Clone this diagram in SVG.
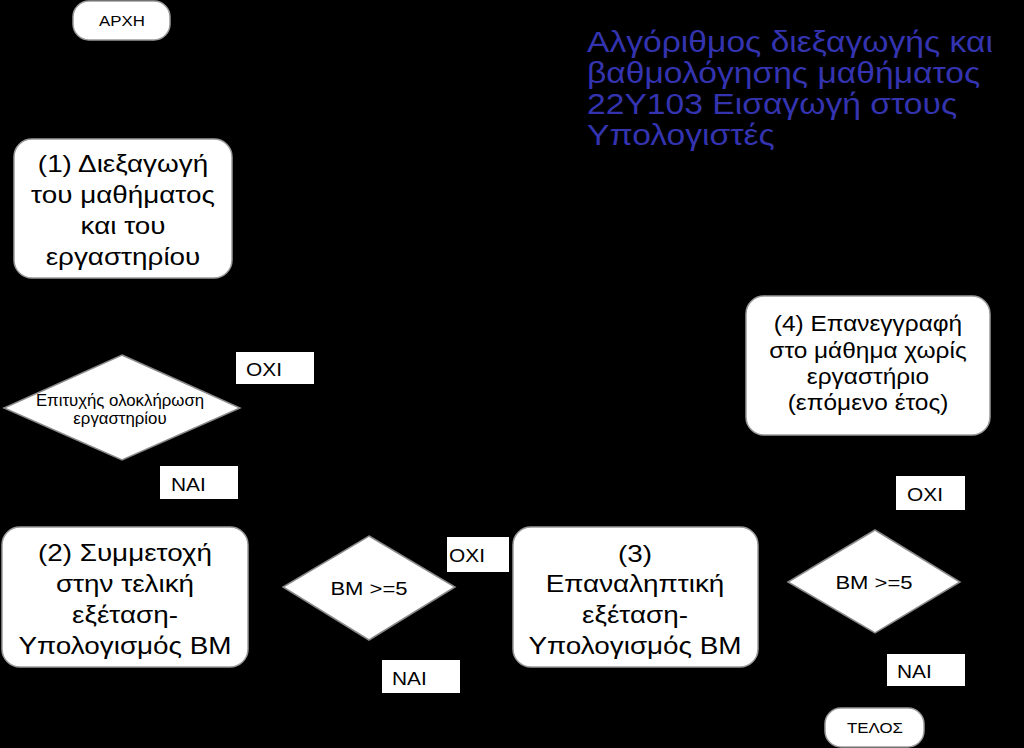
<svg xmlns="http://www.w3.org/2000/svg" width="1024" height="748" viewBox="0 0 1024 748">
<defs>
<marker id="arr" viewBox="0 0 10 10" refX="9" refY="5" markerWidth="8" markerHeight="8" orient="auto"><path d="M0,0 L10,5 L0,10 z" fill="#000"/></marker>
<style>
.bg{fill:#000}
.box{fill:#fff;stroke:#9a9a9a;stroke-width:1.5}
.dia{fill:#fff;stroke:#8a8a8a;stroke-width:1.5}
.lab{fill:#fff;stroke:none}
.t{font-family:"Liberation Sans",Arial,sans-serif;fill:#000;text-anchor:middle}
.tl{font-family:"Liberation Sans",Arial,sans-serif;fill:#000}
.big{font-size:24px}
.mid{font-size:22px}
.sm{font-size:14.5px}
.ds{font-size:16px}
.lb{font-size:18px}
.dl{font-size:19px}
.title{font-family:"Liberation Sans",Arial,sans-serif;font-size:29px;fill:#3434b0}
.con{fill:none;stroke:#000;stroke-width:1.5;marker-end:url(#arr)}
</style>
</defs>
<rect class="bg" x="0" y="0" width="1024" height="748"/>
<g id="connectors">
<path class="con" d="M122,40 L122,139"/>
<path class="con" d="M122,278 L122,355"/>
<path class="con" d="M240,408 L746,408"/>
<path class="con" d="M122,460 L122,527"/>
<path class="con" d="M248,587 L283,587"/>
<path class="con" d="M455,587 L513,587"/>
<path class="con" d="M369,640 L369,727 L825,727"/>
<path class="con" d="M758,582 L788,582"/>
<path class="con" d="M875,530 L875,435"/>
<path class="con" d="M875,633 L875,708"/>
</g>
<g id="title" transform="translate(587 0) scale(1.16 1) translate(-587 0)">
<text class="title" x="587" y="52">Αλγόριθμος διεξαγωγής και</text>
<text class="title" x="587" y="83">βαθμολόγησης μαθήματος</text>
<text class="title" x="587" y="114">22Υ103 Εισαγωγή στους</text>
<text class="title" x="587" y="145">Υπολογιστές</text>
</g>
<g id="start">
<rect class="box" x="73" y="1" width="97" height="39" rx="16"/>
<g transform="translate(122 0) scale(1.16 1) translate(-122 0)"><text class="t sm" x="122" y="26">ΑΡΧΗ</text></g>
</g>
<g id="step1">
<rect class="box" x="14" y="139" width="218" height="139" rx="18"/>
<g transform="translate(123 0) scale(1.16 1) translate(-123 0)">
<text class="t big" x="123" y="172">(1) Διεξαγωγή</text>
<text class="t big" x="123" y="203">του μαθήματος</text>
<text class="t big" x="123" y="234">και του</text>
<text class="t big" x="123" y="265">εργαστηρίου</text>
</g>
</g>
<g id="decision1">
<polygon class="dia" points="122,355 240,408 122,460 4,408"/>
<g transform="translate(120 0) scale(1.05 1) translate(-120 0)">
<text class="t ds" x="120" y="406">Επιτυχής ολοκλήρωση</text>
<text class="t ds" x="120" y="424">εργαστηρίου</text>
</g>
</g>
<g id="label-oxi1">
<rect class="lab" x="236" y="352" width="78" height="32"/>
<text class="tl lb" x="246" y="376" transform="translate(246 0) scale(1.16 1) translate(-246 0)">ΟΧΙ</text>
</g>
<g id="label-nai1">
<rect class="lab" x="160" y="466" width="78" height="33"/>
<text class="tl lb" x="171" y="491" transform="translate(171 0) scale(1.16 1) translate(-171 0)">ΝΑΙ</text>
</g>
<g id="step2">
<rect class="box" x="2" y="527" width="246" height="140" rx="18"/>
<g transform="translate(125 0) scale(1.16 1) translate(-125 0)">
<text class="t big" x="125" y="561">(2) Συμμετοχή</text>
<text class="t big" x="125" y="592">στην τελική</text>
<text class="t big" x="125" y="623">εξέταση-</text>
<text class="t big" x="125" y="654">Υπολογισμός ΒΜ</text>
</g>
</g>
<g id="decision2">
<polygon class="dia" points="369,536 455,587 369,640 283,587"/>
<text class="t dl" x="369" y="595" transform="translate(369 0) scale(1.16 1) translate(-369 0)">ΒΜ &gt;=5</text>
</g>
<g id="label-oxi2">
<rect class="lab" x="447" y="537" width="62" height="35"/>
<text class="tl lb" x="449" y="562" transform="translate(449 0) scale(1.16 1) translate(-449 0)">ΟΧΙ</text>
</g>
<g id="label-nai2">
<rect class="lab" x="382" y="660" width="78" height="33"/>
<text class="tl lb" x="392" y="685" transform="translate(392 0) scale(1.16 1) translate(-392 0)">ΝΑΙ</text>
</g>
<g id="step3">
<rect class="box" x="513" y="527" width="245" height="140" rx="18"/>
<g transform="translate(635 0) scale(1.16 1) translate(-635 0)">
<text class="t big" x="635" y="562">(3)</text>
<text class="t big" x="635" y="592">Επαναληπτική</text>
<text class="t big" x="635" y="623">εξέταση-</text>
<text class="t big" x="635" y="654">Υπολογισμός ΒΜ</text>
</g>
</g>
<g id="step4">
<rect class="box" x="746" y="296" width="244" height="139" rx="18"/>
<g transform="translate(868 0) scale(1.11 1) translate(-868 0)">
<text class="t mid" x="868" y="331">(4) Επανεγγραφή</text>
<text class="t mid" x="868" y="358">στο μάθημα χωρίς</text>
<text class="t mid" x="868" y="384">εργαστήριο</text>
<text class="t mid" x="868" y="410">(επόμενο έτος)</text>
</g>
</g>
<g id="label-oxi3">
<rect class="lab" x="896" y="476" width="69" height="34"/>
<text class="tl lb" x="907" y="501" transform="translate(907 0) scale(1.16 1) translate(-907 0)">ΟΧΙ</text>
</g>
<g id="decision3">
<polygon class="dia" points="875,530 960,582 875,633 788,582"/>
<text class="t dl" x="874" y="589" transform="translate(874 0) scale(1.16 1) translate(-874 0)">ΒΜ &gt;=5</text>
</g>
<g id="label-nai3">
<rect class="lab" x="887" y="654" width="78" height="32"/>
<text class="tl lb" x="897" y="678" transform="translate(897 0) scale(1.16 1) translate(-897 0)">ΝΑΙ</text>
</g>
<g id="end">
<rect class="box" x="825" y="708" width="99" height="39" rx="16"/>
<text class="t sm" x="875" y="733" transform="translate(875 0) scale(1.16 1) translate(-875 0)">ΤΕΛΟΣ</text>
</g>
</svg>
